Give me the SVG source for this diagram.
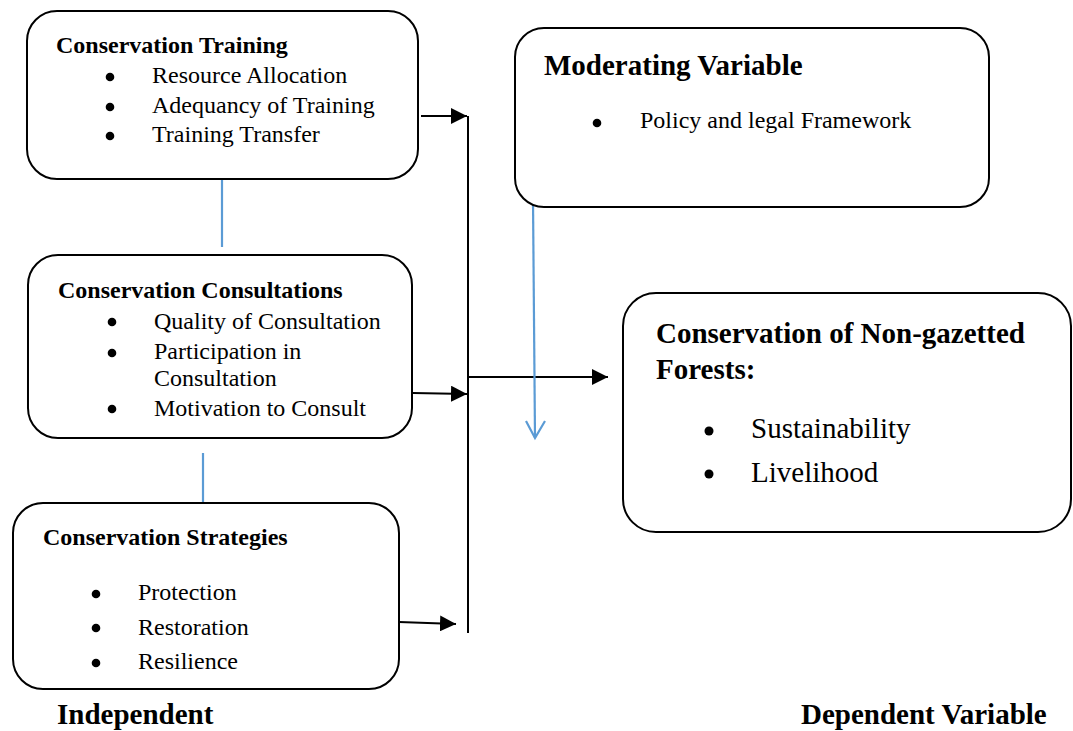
<svg xmlns="http://www.w3.org/2000/svg" width="1073" height="731" viewBox="0 0 1073 731">
<style>
.box{fill:#fff;stroke:#000;stroke-width:2}
.t{font-family:"Liberation Serif","Times New Roman",serif;fill:#000}
.h{font-weight:bold;font-size:24px}
.hl{font-weight:bold;font-size:29px}
.b{font-size:24px}
.bl{font-size:29px}
.dot{fill:#000}
.conn{stroke:#000;stroke-width:2;fill:none}
.blue{stroke:#5B9BD5;stroke-width:2.2;fill:none}
</style>
<defs>
<marker id="ah" markerUnits="userSpaceOnUse" markerWidth="16" markerHeight="16" viewBox="0 0 15 15" refX="15" refY="7.5" orient="auto">
<path d="M0,0 L15,7.5 L0,15 z" fill="#000"/>
</marker>
</defs>
<rect width="1073" height="731" fill="#fff"/>

<g id="connectors">
<line class="blue" x1="222" y1="170" x2="222" y2="247"/>
<line class="blue" x1="203" y1="453" x2="203" y2="507"/>
<line class="conn" x1="421" y1="116" x2="467" y2="116" marker-end="url(#ah)"/>
<line class="conn" x1="413" y1="393" x2="467" y2="394" marker-end="url(#ah)"/>
<line class="conn" x1="399" y1="622" x2="456" y2="624" marker-end="url(#ah)"/>
<line class="conn" x1="468" y1="116" x2="468" y2="633"/>
<line class="conn" x1="468" y1="377" x2="608" y2="377" marker-end="url(#ah)"/>
<line class="blue" x1="533" y1="200" x2="535" y2="438"/>
<polyline class="blue" points="526,421 535,438 545,421"/>
</g>

<g id="training">
<rect class="box" x="27" y="11" width="391" height="168" rx="30" ry="30"/>
<text class="t h" x="56" y="53">Conservation Training</text>
<circle class="dot" cx="110" cy="77" r="4.3"/>
<circle class="dot" cx="110" cy="107" r="4.3"/>
<circle class="dot" cx="110" cy="136" r="4.3"/>
<text class="t b" x="152" y="83">Resource Allocation</text>
<text class="t b" x="152" y="113">Adequancy of Training</text>
<text class="t b" x="152" y="142">Training Transfer</text>
</g>

<g id="consultations">
<rect class="box" x="28" y="255" width="384" height="183" rx="30" ry="30"/>
<text class="t h" x="58" y="298">Conservation Consultations</text>
<circle class="dot" cx="112" cy="322" r="4.3"/>
<circle class="dot" cx="112" cy="353" r="4.3"/>
<circle class="dot" cx="112" cy="409" r="4.3"/>
<text class="t b" x="154" y="329">Quality of Consultation</text>
<text class="t b" x="154" y="359">Participation in</text>
<text class="t b" x="154" y="386">Consultation</text>
<text class="t b" x="154" y="416">Motivation to Consult</text>
</g>

<g id="strategies">
<rect class="box" x="13" y="503" width="386" height="186" rx="30" ry="30"/>
<text class="t h" x="43" y="545">Conservation Strategies</text>
<circle class="dot" cx="96" cy="594" r="4.3"/>
<circle class="dot" cx="96" cy="628" r="4.3"/>
<circle class="dot" cx="96" cy="663" r="4.3"/>
<text class="t b" x="138" y="600">Protection</text>
<text class="t b" x="138" y="635">Restoration</text>
<text class="t b" x="138" y="669">Resilience</text>
</g>

<g id="moderating">
<rect class="box" x="515" y="28" width="474" height="179" rx="29" ry="29"/>
<text class="t hl" x="544" y="75">Moderating Variable</text>
<circle class="dot" cx="597" cy="123" r="4.3"/>
<text class="t b" x="640" y="128">Policy and legal Framework</text>
</g>

<g id="dependent">
<rect class="box" x="623" y="293" width="448" height="239" rx="33" ry="33"/>
<text class="t hl" x="656" y="343">Conservation of Non-gazetted</text>
<text class="t hl" x="656" y="379">Forests:</text>
<circle class="dot" cx="709" cy="431" r="4.5"/>
<circle class="dot" cx="709" cy="474" r="4.5"/>
<text class="t bl" x="751" y="438">Sustainability</text>
<text class="t bl" x="751" y="482">Livelihood</text>
</g>

<g id="labels">
<text class="t hl" x="57" y="724">Independent</text>
<text class="t hl" x="801" y="724">Dependent Variable</text>
</g>
</svg>
